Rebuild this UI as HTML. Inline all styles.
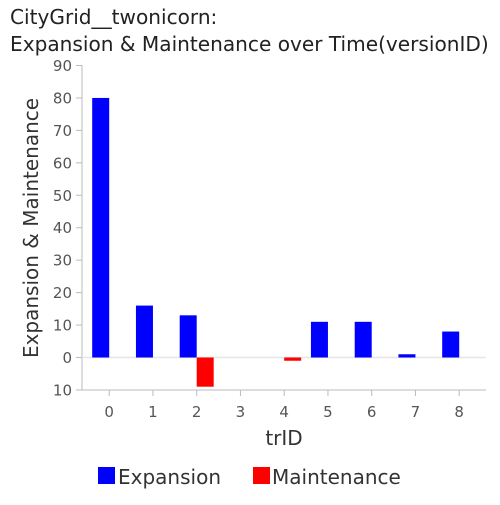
<!DOCTYPE html>
<html><head><meta charset="utf-8"><style>
body{margin:0;background:#fff;}
svg{font-family:"DejaVu Sans","Liberation Sans",sans-serif;}
</style></head><body>
<svg id="c" width="500" height="500">
<text x="10" y="24" font-size="20.1" fill="#222">CityGrid__twonicorn:</text>
<text x="10" y="51" font-size="20.1" fill="#222">Expansion &amp; Maintenance over Time(versionID)</text>
<text transform="translate(38,228) rotate(-90)" text-anchor="middle" font-size="20" fill="#333">Expansion &amp; Maintenance</text>
<text x="284" y="445" text-anchor="middle" font-size="20" fill="#333">trID</text>
<g id="plot"></g>
<rect x="98" y="467" width="17" height="17" fill="#0000ff"/>
<text x="118" y="484" font-size="20" fill="#333">Expansion</text>
<rect x="253" y="467" width="17" height="17" fill="#ff0000"/>
<text x="272" y="484" font-size="20" fill="#333">Maintenance</text>
</svg>
<script>
const categories=[0,1,2,3,4,5,6,7,8];
const expansion=[80,16,13,0,0,11,11,1,8];
const maintenance=[0,0,-9,0,-1,0,0,0,0];
const yTicks=[-10,0,10,20,30,40,50,60,70,80,90];
const yTickLabels=["10","0","10","20","30","40","50","60","70","80","90"];
const NS="http://www.w3.org/2000/svg";
const g=document.getElementById('plot');
function y(v){return 357.5-(v)*(292/90);}
function x(i){return 109.2+i*43.75;}
function mk(t,a){const e=document.createElementNS(NS,t);for(const k in a)e.setAttribute(k,a[k]);g.appendChild(e);return e;}
let e;
e=mk('line',{x1:82,x2:82,y1:65,y2:390,stroke:'#bbb'});


e=mk('line',{x1:82,x2:486,y1:390,y2:390,stroke:'#bbb'});


e=mk('line',{x1:82,x2:486,y1:y(0),y2:y(0),stroke:'#e6e6e6','stroke-width':1.5});


yTicks.forEach((v,i)=>{
  e=mk('line',{x1:76,x2:82,y1:y(v),y2:y(v),stroke:'#bbb'});
  
  
  e=mk('text',{x:72,y:y(v)+5.5,'text-anchor':'end','font-size':15,fill:'#555'});
  e.textContent=yTickLabels[i];
  
  
});
categories.forEach((c,i)=>{
  e=mk('line',{x1:x(i),x2:x(i),y1:390,y2:396,stroke:'#bbb'});
  
  
  e=mk('text',{x:x(i),y:417,'text-anchor':'middle','font-size':15,fill:'#555'});
  e.textContent=String(c);
  
  
  const ev=expansion[i];
  if(ev!==0){
    e=mk('rect',{x:x(i)-17,width:17,y:Math.min(y(ev),y(0)),height:Math.abs(y(ev)-y(0)),fill:'#0000ff'});
    
    
  }
  const mv=maintenance[i];
  if(mv!==0){
    e=mk('rect',{x:x(i),width:17,y:Math.min(y(mv),y(0)),height:Math.abs(y(mv)-y(0)),fill:'#ff0000'});
    
    
  }
});
</script>
</body></html>
